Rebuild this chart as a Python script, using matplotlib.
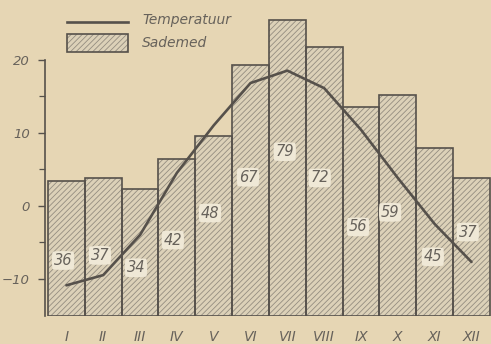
import matplotlib
matplotlib.use("Agg")
import matplotlib.pyplot as plt
from matplotlib import font_manager
from matplotlib.lines import Line2D
from matplotlib.patches import Rectangle
import numpy as np

# Monthly climate data
months = ["I", "II", "III", "IV", "V", "VI", "VII", "VIII", "IX", "X", "XI", "XII"]
temperature = [-10.9, -9.5, -4.0, 4.5, 11.0, 16.8, 18.5, 16.1, 10.4, 3.8, -2.5, -7.7]
precipitation = [36, 37, 34, 42, 48, 67, 79, 72, 56, 59, 45, 37]

# Where each precipitation number sits inside its bar (temperature-axis units)
label_y = [-7.5, -6.8, -8.5, -4.7, -1.0, 3.9, 7.4, 3.8, -2.9, -0.9, -7.0, -3.6]
label_dx = [-0.09, -0.09, -0.11, -0.11, -0.10, -0.07, -0.07, -0.12, -0.08, -0.21, -0.05, -0.10]

available = {f.name for f in font_manager.fontManager.ttflist}
family = "Liberation Sans Narrow" if "Liberation Sans Narrow" in available else "DejaVu Sans"
plt.rcParams["font.family"] = [family, "DejaVu Sans"]

paper = "#e6d6b4"
ink = "#56514b"
text_col = "#67625b"
bar_fill = "#dcd1b8"
hatch_col = "#948d80"

plt.rcParams["hatch.linewidth"] = 0.6

fig = plt.figure(figsize=(4.91, 3.44), dpi=100, facecolor=paper)
ax = fig.add_axes([45 / 491, 28 / 344, 446 / 491, 306 / 344])
ax2 = ax.twinx()
ax2.set_zorder(ax.get_zorder() - 1)
ax.patch.set_visible(False)

x = np.arange(len(months))

# Precipitation bars on the hidden right-hand scale
ax2.bar(x, precipitation, width=1.0, color=bar_fill, edgecolor=hatch_col,
        hatch="//////", linewidth=0)
ax2.bar(x, precipitation, width=1.0, fill=False, edgecolor=ink, linewidth=1.2)
ax2.set_ylim(0, 81.8)
ax2.axis("off")

# Temperature curve
ax.plot(x, temperature, color=ink, linewidth=1.9, solid_capstyle="round",
        solid_joinstyle="round", zorder=5)

for xi, dx, yi, p in zip(x, label_dx, label_y, precipitation):
    ax.text(xi + dx, yi, str(p), ha="center", va="center", fontsize=10.5,
            style="italic", color=text_col, zorder=6,
            bbox=dict(boxstyle="round4,pad=0.15", facecolor="#efe8d6",
                      edgecolor="none"))

ax.set_xlim(-0.581, 11.53)
ax.set_ylim(-15.1, 26.8)

for side in ("top", "right", "bottom"):
    ax.spines[side].set_visible(False)
ax.spines["left"].set_bounds(-15.1, 20)
ax.spines["left"].set_color(ink)
ax.spines["left"].set_linewidth(1.2)

ax.set_yticks([-10, 0, 10, 20])
ax.set_yticks([-5, 5, 15], minor=True)
ax.tick_params(axis="y", which="major", length=5, width=1.0, color=ink,
               labelcolor=text_col, labelsize=9.5, pad=6)
ax.tick_params(axis="y", which="minor", length=4, width=0.9, color=ink)
for t in ax.get_yticklabels():
    t.set_style("italic")

ax.set_xticks(x)
ax.set_xticklabels(months, style="italic", fontsize=10, color=text_col)
ax.tick_params(axis="x", length=0, pad=10)

# Legend drawn in figure pixels
W, H = 491, 344
fig.add_artist(Line2D([67 / W, 128 / W], [1 - 22 / H, 1 - 22 / H],
                      transform=fig.transFigure, color=ink, linewidth=1.9))
fig.add_artist(Rectangle((67 / W, 1 - 52 / H), 61 / W, 18 / H,
                         transform=fig.transFigure, facecolor=bar_fill,
                         edgecolor=hatch_col, hatch="//////", linewidth=0))
fig.add_artist(Rectangle((67 / W, 1 - 52 / H), 61 / W, 18 / H,
                         transform=fig.transFigure, fill=False,
                         edgecolor=ink, linewidth=1.2))
fig.text(142 / W, 1 - 20 / H, "Temperatuur", style="italic", fontsize=10,
         color=text_col, va="center", ha="left")
fig.text(142 / W, 1 - 43 / H, "Sademed", style="italic", fontsize=10,
         color=text_col, va="center", ha="left")

fig.savefig("out.png", dpi=100, facecolor=paper)
